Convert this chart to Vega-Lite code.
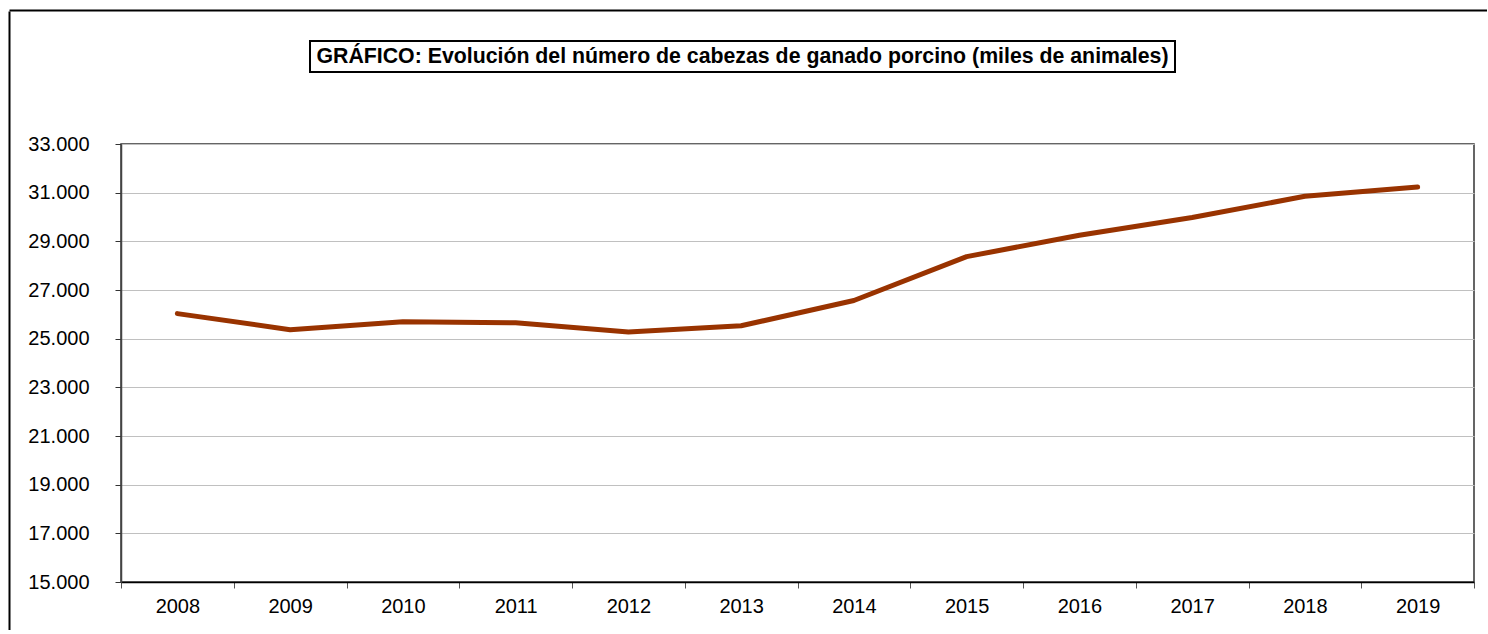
{
  "$schema": "https://vega.github.io/schema/vega-lite/v6.json",
  "background": "white",
  "padding": {"left": 9, "top": 10, "right": 0, "bottom": 0},
  "config": {
    "font": "Liberation Sans",
    "view": {"stroke": null},
    "locale": {"number": {"decimal": ",", "thousands": ".", "grouping": [3], "currency": ["", " €"]}}
  },
  "spacing": 0,
  "vconcat": [
    {
      "width": 1478,
      "height": 1,
      "mark": {"type": "point", "opacity": 0},
      "encoding": {
        "x": {"datum": 0, "type": "quantitative", "scale": {"domain": [0, 1]}, "axis": {"orient": "top", "title": null, "ticks": false, "labels": false, "grid": false, "domainColor": "black", "domainWidth": 2}}
      }
    },
    {
      "spacing": 17,
      "hconcat": [
        {
          "width": 1,
          "height": 619,
          "mark": {"type": "point", "opacity": 0},
          "encoding": {
            "y": {"datum": 0, "type": "quantitative", "scale": {"domain": [0, 1]}, "axis": {"orient": "left", "title": null, "ticks": false, "labels": false, "grid": false, "domainColor": "black", "domainWidth": 2}}
          }
        },
        {
          "spacing": 0,
          "vconcat": [
            {
              "width": 1,
              "height": 29,
              "data": {"values": [{}]},
              "mark": {"type": "text"},
              "encoding": {"text": {"value": ""}}
            },
            {
              "spacing": 60,
              "vconcat": [
                {
                  "spacing": 0,
                  "hconcat": [
                    {
                      "width": 188,
                      "height": 31,
                      "data": {"values": [{}]},
                      "mark": {"type": "text"},
                      "encoding": {"text": {"value": ""}}
                    },
                    {
                      "width": 865,
                      "height": 31,
                      "view": {"stroke": "black", "strokeWidth": 2},
                      "data": {"values": [{"title": "GRÁFICO: Evolución del número de cabezas de ganado porcino (miles de animales)"}]},
                      "mark": {"type": "text", "fontWeight": "bold", "fontSize": 21.3, "font": "Liberation Sans", "color": "black"},
                      "encoding": {"text": {"field": "title", "type": "nominal"}}
                    }
                  ]
                },
                {
                  "width": 1353,
                  "height": 438,
                  "view": {"stroke": "#333333", "strokeWidth": 1.5},
                  "data": {"values": [
                    {"year": "2008", "cabezas": 26030},
                    {"year": "2009", "cabezas": 25370},
                    {"year": "2010", "cabezas": 25700},
                    {"year": "2011", "cabezas": 25650},
                    {"year": "2012", "cabezas": 25270},
                    {"year": "2013", "cabezas": 25530},
                    {"year": "2014", "cabezas": 26570},
                    {"year": "2015", "cabezas": 28370},
                    {"year": "2016", "cabezas": 29250},
                    {"year": "2017", "cabezas": 29980},
                    {"year": "2018", "cabezas": 30850},
                    {"year": "2019", "cabezas": 31230}
                  ]},
                  "mark": {"type": "line", "color": "#993300", "strokeWidth": 5, "strokeCap": "round", "strokeJoin": "round"},
                  "encoding": {
                    "x": {
                      "field": "year",
                      "type": "ordinal",
                      "bandPosition": 0.5,
                      "scale": {"type": "band", "paddingInner": 0, "paddingOuter": 0},
                      "axis": {
                        "title": null,
                        "labelAngle": 0,
                        "labelFontSize": 20,
                        "labelColor": "black",
                        "labelPadding": 8,
                        "tickBand": "extent",
                        "tickSize": 6,
                        "tickColor": "#555555",
                        "domainColor": "black",
                        "domainWidth": 1.5,
                        "grid": false
                      }
                    },
                    "y": {
                      "field": "cabezas",
                      "type": "quantitative",
                      "scale": {"domain": [15000, 33000], "nice": false, "zero": false},
                      "axis": {
                        "title": null,
                        "values": [15000, 17000, 19000, 21000, 23000, 25000, 27000, 29000, 31000, 33000],
                        "format": ",d",
                        "labelFontSize": 20,
                        "labelColor": "black",
                        "labelPadding": 26,
                        "tickSize": 6,
                        "tickColor": "#333333",
                        "domainColor": "#444444",
                        "domainWidth": 1.5,
                        "grid": true,
                        "gridColor": "#c0c0c0",
                        "gridWidth": 1
                      }
                    }
                  }
                }
              ]
            }
          ]
        }
      ]
    }
  ]
}
